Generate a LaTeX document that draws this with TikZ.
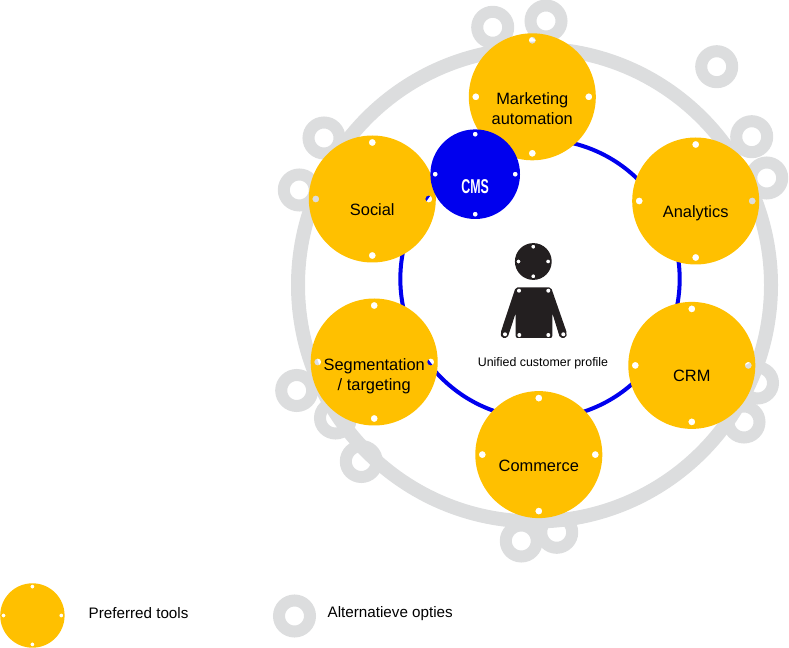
\documentclass[tikz,border=0pt]{standalone}
\usepackage{fontspec}
\usepackage{graphicx}
\setmainfont{Liberation Sans}
\definecolor{ygold}{HTML}{FFC000}
\definecolor{ablue}{HTML}{0000EE}
\definecolor{lgrey}{HTML}{DCDDDE}
\definecolor{ink}{HTML}{231F20}
\tikzset{x=0.75pt,y=-0.75pt,
 altring/.style={circle,draw=lgrey,line width=9pt,minimum size=23.25pt,inner sep=0pt},
 toolname/.style={align=center,font=\fontsize{12.3}{15}\selectfont,text=black},
 smalltext/.style={anchor=west,font=\fontsize{11.4}{13}\selectfont,text=black},
}
% disc with four real holes: x y radius offset holeradius colour
\newcommand{\holed}[6]{%
 \fill[#6,even odd rule] (#1,#2) circle (#3)
   ({#1},{#2-#4}) circle (#5) ({#1},{#2+#4}) circle (#5)
   ({#1-#4},{#2}) circle (#5) ({#1+#4},{#2}) circle (#5);}
\begin{document}
\begin{tikzpicture}
\useasboundingbox (0,0) rectangle (789,648);
\foreach \n/\a/\b in {r1/492.7/27.3,r2/546/21,r3/716.7/66.7,r4/751.7/136.7,r5/766.7/178,r6/324/138,r7/299.3/190,r8/296.7/390.5,r9/335.5/418,r10/361.3/461.5,r11/521.3/541,r12/556.7/532.3,r13/744/422,r14/757.5/383}
 \node[altring] (\n) at (\a,\b) {};
\node[circle,draw=lgrey,line width=10.5pt,minimum size=354.75pt,inner sep=0pt] (bigring) at (534.5,285) {};
\node[circle,draw=ablue,line width=3pt,minimum size=209.5pt,inner sep=0pt] (bluering) at (540,279) {};
\holed{532.3}{96.8}{63.5}{56.5}{3.5}{ygold}
\holed{695.7}{201}{63.5}{56.5}{3.5}{ygold}
\holed{691.8}{365.4}{63.5}{56.5}{3.5}{ygold}
\holed{538.8}{454.6}{63.5}{56.5}{3.5}{ygold}
\holed{374.2}{362}{63.5}{56.5}{3.5}{ygold}
\holed{372.3}{199}{63.5}{56.5}{3.5}{ygold}
\holed{475.2}{174.2}{44.8}{40}{2.5}{ablue}
\node[toolname] (mkt) at (532.3,108.5) {Marketing\\automation};
\node[toolname] (ana) at (695.7,213.5) {Analytics};
\node[toolname] (crm) at (691.8,376) {CRM};
\node[toolname] (com) at (538.8,465.5) {Commerce};
\node[toolname] (seg) at (374.2,376.5) {Segmentation\\/ targeting};
\node[toolname] (soc) at (372.3,210) {Social};
\node[text=white,font=\bfseries\fontsize{15}{15}\selectfont] (cms) at (475.2,186.5) {\scalebox{.62}[1]{CMS}};
\holed{533.3}{261.5}{18.4}{14.8}{2}{ink}
\fill[ink,rounded corners=1.5pt] (515.7,287.3) -- (551,287.3) -- (566.9,333) -- (566,338) -- (560,338) -- (552.3,313) -- (552.3,338) -- (515.7,338) -- (515.7,313) -- (507.5,338) -- (501.5,338) -- (500.5,333) -- cycle;
\foreach \a/\b in {519/290.7,548.3/290.7,519.3/335,548.3/335,505/334.3,563.3/334.3}
 \fill[white] (\a,\b) circle (2);
\node[font=\fontsize{9.3}{10}\selectfont,text=black] (ucp) at (543,363) {Unified customer profile};
\holed{32.4}{615.5}{32.2}{28.9}{2}{ygold}
\node[altring] (legr) at (294.5,616) {};
\node[smalltext] (pt) at (84,613) {Preferred tools};
\node[smalltext] (ao) at (323,614) {Alternatieve opties};
\end{tikzpicture}
\end{document}
